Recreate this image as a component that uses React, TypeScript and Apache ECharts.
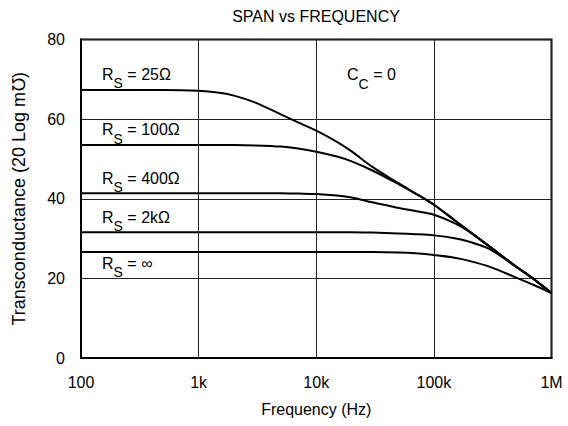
import React, { useEffect, useRef } from "react";
import * as echarts from "echarts";

const FREQ = [100, 200, 500, 1000, 1500, 2000, 3000, 5000, 7000, 10000, 15000, 20000, 30000, 50000, 70000, 100000, 150000, 200000, 300000, 500000, 700000, 1000000];

const RS_25 = [67.3, 67.3, 67.3, 67.1, 66.6, 65.9, 64.2, 61.2, 59.2, 57.1, 54.3, 51.9, 48.0, 43.9, 41.3, 38.5, 34.6, 31.8, 27.9, 23.0, 19.9, 16.3];
const RS_100 = [53.5, 53.5, 53.5, 53.5, 53.5, 53.5, 53.4, 53.1, 52.6, 51.8, 50.6, 49.4, 47.1, 43.7, 41.3, 38.5, 34.6, 31.8, 27.9, 23.0, 19.9, 16.3];
const RS_400 = [41.4, 41.4, 41.4, 41.4, 41.4, 41.4, 41.4, 41.4, 41.3, 41.2, 40.8, 40.3, 39.1, 37.7, 36.9, 36.0, 33.9, 31.7, 27.9, 23.0, 19.9, 16.3];
const RS_2K = [31.6, 31.6, 31.6, 31.6, 31.6, 31.6, 31.6, 31.6, 31.6, 31.6, 31.6, 31.6, 31.5, 31.3, 31.1, 30.8, 30.1, 29.2, 27.3, 22.9, 19.9, 16.3];
const RS_INF = [26.6, 26.6, 26.6, 26.6, 26.6, 26.6, 26.6, 26.6, 26.6, 26.6, 26.6, 26.6, 26.6, 26.5, 26.3, 25.9, 25.2, 24.4, 22.9, 20.2, 18.4, 16.3];

const X_TICKS: Record<number, string> = { 100: "100", 1000: "1k", 10000: "10k", 100000: "100k", 1000000: "1M" };

const LABELS = [
  { main: "R", sub: "S", rest: " = 25Ω", x: 102, y: 74 },
  { main: "R", sub: "S", rest: " = 100Ω", x: 102, y: 129.5 },
  { main: "R", sub: "S", rest: " = 400Ω", x: 102, y: 178 },
  { main: "R", sub: "S", rest: " = 2kΩ", x: 102, y: 217 },
  { main: "R", sub: "S", rest: " = ∞", x: 102, y: 263 },
  { main: "C", sub: "C", rest: " = 0", x: 347, y: 74.5 },
];

const FONT = "'Liberation Sans', Arial, sans-serif";

export default function App() {
  const ref = useRef<HTMLDivElement>(null);
  useEffect(() => {
    if (!ref.current) return;
    const chart = echarts.init(ref.current, null, { renderer: "svg" });
    const mk = (vals: number[]) => FREQ.map((f, i) => [f, vals[i]]);
    const seriesList = [RS_25, RS_100, RS_400, RS_2K, RS_INF].map((v) => ({
      type: "line",
      data: mk(v),
      smooth: 0.3,
      showSymbol: false,
      symbol: "none",
      lineStyle: { color: "#000", width: 2 },
      z: 3,
    }));
    const graphics = LABELS.map((l) => ({
      type: "group",
      x: l.x,
      y: l.y,
      z: 10,
      children: [
        { type: "text", x: 0, y: 0, style: { text: l.main, fontSize: 16, fontFamily: FONT, fill: "#000", verticalAlign: "middle", align: "left" } },
        { type: "text", x: 11.6, y: 9, style: { text: l.sub, fontSize: 14, fontFamily: FONT, fill: "#000", verticalAlign: "middle", align: "left" } },
        { type: "text", x: l.sub === "S" ? 20.9 : 21.7, y: 0, style: { text: l.rest, fontSize: 16, fontFamily: FONT, fill: "#000", verticalAlign: "middle", align: "left" } },
      ],
    }));
    chart.setOption({
      animation: false,
      backgroundColor: "#fff",
      title: {
        text: "SPAN vs FREQUENCY",
        left: 316,
        textAlign: "center",
        top: 8,
        padding: 0,
        textStyle: { fontSize: 16, fontWeight: "normal", color: "#000", fontFamily: FONT },
      },
      grid: { left: 81, right: 16.5, top: 39.5, bottom: 68, show: true, borderColor: "#000", borderWidth: 2, backgroundColor: "transparent" },
      xAxis: {
        type: "log",
        logBase: 10,
        min: 100,
        max: 1000000,
        name: "Frequency (Hz)",
        nameLocation: "middle",
        nameGap: 43,
        nameTextStyle: { fontSize: 16, color: "#000", fontFamily: FONT },
        axisLine: { show: true, lineStyle: { color: "#000", width: 2 } },
        axisTick: { show: false },
        axisLabel: { margin: 16, fontSize: 16, color: "#000", fontFamily: FONT, formatter: (v: number) => X_TICKS[Math.round(v)] ?? "" },
        splitLine: { show: true, lineStyle: { color: "#222", width: 1 } },
      },
      yAxis: {
        type: "value",
        min: 0,
        max: 80,
        interval: 20,
        name: "Transconductance (20 Log m℧)",
        nameLocation: "middle",
        nameGap: 53,
        nameTextStyle: { fontSize: 18, color: "#000", fontFamily: FONT },
        axisLine: { show: true, lineStyle: { color: "#000", width: 2 } },
        axisTick: { show: false },
        axisLabel: { margin: 16, fontSize: 16, color: "#000", fontFamily: FONT },
        splitLine: { show: true, lineStyle: { color: "#222", width: 1 } },
      },
      series: seriesList,
      graphic: graphics,
    });
    return () => chart.dispose();
  }, []);
  return <div ref={ref} style={{ width: 568, height: 426, position: "absolute", left: 0, top: 0 }} />;
}
